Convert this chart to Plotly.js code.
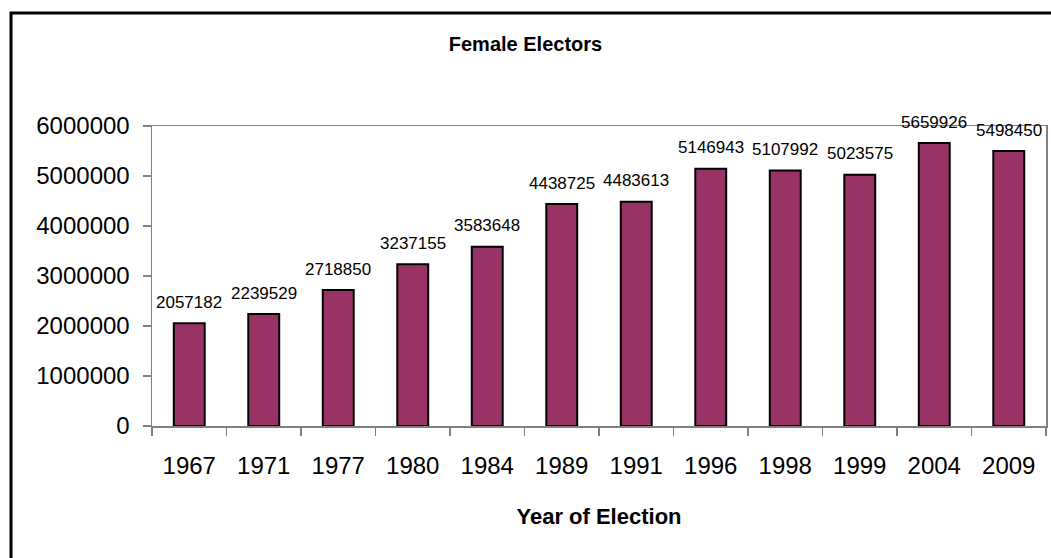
<!DOCTYPE html>
<html>
<head>
<meta charset="utf-8">
<script src="https://cdn.plot.ly/plotly-3.0.1.min.js"></script>
<style>html,body{margin:0;padding:0;background:#fff;}</style>
</head>
<body>
<div id="chart" style="width:1051px;height:558px;"></div>
<script>
const years = ["1967","1971","1977","1980","1984","1989","1991","1996","1998","1999","2004","2009"];
const femaleElectors = [2057182,2239529,2718850,3237155,3583648,4438725,4483613,5146943,5107992,5023575,5659926,5498450];
const chartTitle = "Female Electors";
const xAxisTitle = "Year of Election";

const FONT = "Liberation Sans, Arial, sans-serif";

const trace = {
  type: "bar",
  x: years,
  y: femaleElectors,
  marker: {color: "#993366", line: {color: "#000000", width: 2}},
  hoverinfo: "x+y"
};

const annotations = years.map((yr, i) => ({
  x: i, y: femaleElectors[i], xref: "x", yref: "y",
  text: String(femaleElectors[i]),
  showarrow: false, yanchor: "middle", yshift: 21,
  font: {family: FONT, size: 17, color: "#000"}
}));

const layout = {
  width: 1051, height: 558,
  margin: {l: 152, r: 5, t: 126, b: 132, pad: 0},
  paper_bgcolor: "#ffffff", plot_bgcolor: "#ffffff",
  showlegend: false,
  bargap: 0.585,
  title: {text: "<b>" + chartTitle + "</b>", x: 0.5, xanchor: "center", y: 0.921, yanchor: "middle", yref: "container",
          font: {family: FONT, size: 20, color: "#000"}},
  xaxis: {
    type: "category", range: [-0.5, years.length - 0.5], autorange: false,
    showline: true, linecolor: "#808080", linewidth: 1.5, mirror: true,
    ticks: "outside", tickson: "boundaries", ticklen: 8, tickcolor: "#808080", tickwidth: 1.5,
    tickfont: {family: FONT, size: 24, color: "#000"}, tickangle: 0,
    ticklabelstandoff: 18,
    showgrid: false, zeroline: false,
    title: {text: "<b>" + xAxisTitle + "</b>", font: {family: FONT, size: 22, color: "#000"}, standoff: 30}
  },
  yaxis: {
    range: [0, 6000000], autorange: false, dtick: 1000000, tick0: 0, tickformat: "d",
    showline: true, linecolor: "#808080", linewidth: 1.5, mirror: true,
    ticks: "outside", ticklen: 8, tickcolor: "#808080", tickwidth: 1.5,
    tickfont: {family: FONT, size: 24, color: "#000"},
    ticklabelstandoff: 8,
    showgrid: false, zeroline: false
  },
  annotations: annotations,
  shapes: [{
    type: "rect", xref: "paper", yref: "paper",
    x0: -0.1577, x1: 1.03, y0: -0.5, y1: 1.3767,
    line: {color: "#000000", width: 3}, fillcolor: "rgba(0,0,0,0)", layer: "above"
  }]
};

Plotly.newPlot("chart", [trace], layout, {staticPlot: true, displayModeBar: false});
</script>
</body>
</html>
